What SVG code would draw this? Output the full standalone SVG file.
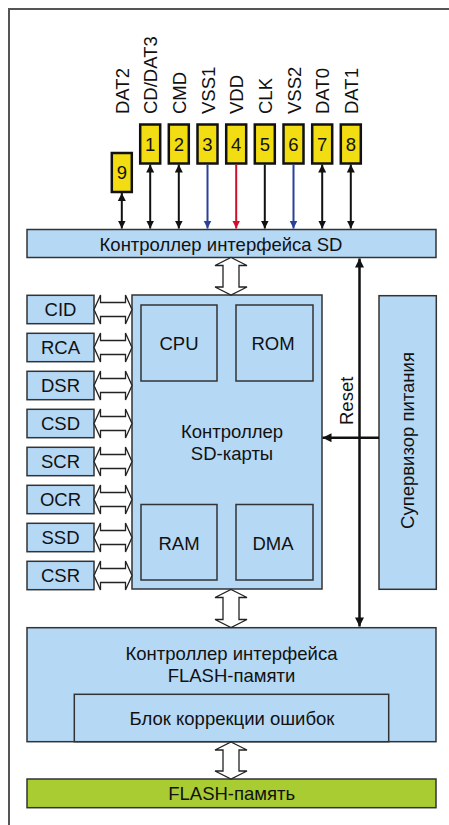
<svg xmlns="http://www.w3.org/2000/svg" width="449" height="825" viewBox="0 0 449 825">
<defs>
<style>
text{font-family:"Liberation Sans",Arial,sans-serif;font-size:18.5px;fill:#111}
.blk{fill:#b5d8f5;stroke:#333;stroke-width:1.5}
.pin{fill:#f2dc12;stroke:#111;stroke-width:2.5}
.hol{fill:#fff;stroke:#222;stroke-width:1.3;stroke-linejoin:miter}
.c{text-anchor:middle}
.wk{stroke:#111;stroke-width:2;fill:none}
.wb{stroke:#2b3f9c;stroke-width:2;fill:none}
.wr{stroke:#d0102a;stroke-width:2;fill:none}
</style>
<marker id="ak" viewBox="0 0 10 10" refX="10" refY="5" markerWidth="8" markerHeight="9" markerUnits="userSpaceOnUse" orient="auto-start-reverse"><path d="M0,0 L10,5 L0,10 z" fill="#111"/></marker>
<marker id="ab" viewBox="0 0 10 10" refX="10" refY="5" markerWidth="8" markerHeight="9" markerUnits="userSpaceOnUse" orient="auto"><path d="M0,0 L10,5 L0,10 z" fill="#2b3f9c"/></marker>
<marker id="ar" viewBox="0 0 10 10" refX="10" refY="5" markerWidth="8" markerHeight="9" markerUnits="userSpaceOnUse" orient="auto"><path d="M0,0 L10,5 L0,10 z" fill="#d0102a"/></marker>
<marker id="ak2" viewBox="0 0 10 10" refX="10" refY="5" markerWidth="13" markerHeight="9" markerUnits="userSpaceOnUse" orient="auto-start-reverse"><path d="M0,0 L10,5 L0,10 z" fill="#111"/></marker>
</defs>
<rect width="449" height="825" fill="#fff"/>
<path d="M9,825 V9 H449" fill="none" stroke="#555" stroke-width="2"/>

<g id="pins">
<g id="pin9"><rect class="pin" x="111.8" y="153" width="20" height="39"/><text class="c" x="121.8" y="179">9</text><text transform="translate(128.8,114) rotate(-90)">DAT2</text></g>
<g id="pin1"><rect class="pin" x="140.2" y="124.5" width="20" height="39"/><text class="c" x="150.2" y="150.5">1</text><text transform="translate(157.2,114) rotate(-90)">CD/DAT3</text></g>
<g id="pin2"><rect class="pin" x="168.8" y="124.5" width="20" height="39"/><text class="c" x="178.8" y="150.5">2</text><text transform="translate(185.8,114) rotate(-90)">CMD</text></g>
<g id="pin3"><rect class="pin" x="197.5" y="124.5" width="20" height="39"/><text class="c" x="207.5" y="150.5">3</text><text transform="translate(214.5,114) rotate(-90)">VSS1</text></g>
<g id="pin4"><rect class="pin" x="226.2" y="124.5" width="20" height="39"/><text class="c" x="236.2" y="150.5">4</text><text transform="translate(243.2,114) rotate(-90)">VDD</text></g>
<g id="pin5"><rect class="pin" x="254.8" y="124.5" width="20" height="39"/><text class="c" x="264.8" y="150.5">5</text><text transform="translate(271.8,114) rotate(-90)">CLK</text></g>
<g id="pin6"><rect class="pin" x="283.5" y="124.5" width="20" height="39"/><text class="c" x="293.5" y="150.5">6</text><text transform="translate(300.5,114) rotate(-90)">VSS2</text></g>
<g id="pin7"><rect class="pin" x="312.2" y="124.5" width="20" height="39"/><text class="c" x="322.2" y="150.5">7</text><text transform="translate(329.2,114) rotate(-90)">DAT0</text></g>
<g id="pin8"><rect class="pin" x="340.8" y="124.5" width="20" height="39"/><text class="c" x="350.8" y="150.5">8</text><text transform="translate(357.8,114) rotate(-90)">DAT1</text></g>
</g>

<g id="sdif"><rect class="blk" x="27" y="229.5" width="409" height="28"/><text class="c" x="221" y="251">Контроллер интерфейса SD</text></g>

<g id="sdctl"><rect class="blk" x="132" y="295" width="190" height="294"/>
<text class="c" x="232" y="438">Контроллер</text><text class="c" x="232" y="460">SD-карты</text></g>
<g id="cpu"><rect class="blk" x="141" y="305" width="76" height="76"/><text class="c" x="179" y="349.5">CPU</text></g>
<g id="rom"><rect class="blk" x="236" y="305" width="77" height="76"/><text class="c" x="273" y="349.5">ROM</text></g>
<g id="ram"><rect class="blk" x="141" y="504.5" width="76" height="75.5"/><text class="c" x="179" y="550">RAM</text></g>
<g id="dma"><rect class="blk" x="236" y="504.5" width="77" height="75.5"/><text class="c" x="273" y="550">DMA</text></g>

<g id="regs">
<g id="cid"><rect class="blk" x="27" y="295.3" width="67" height="28.4"/><text class="c" x="60.5" y="316">CID</text></g>
<g id="rca"><rect class="blk" x="27" y="333.3" width="67" height="28.4"/><text class="c" x="60.5" y="354">RCA</text></g>
<g id="dsr"><rect class="blk" x="27" y="371.3" width="67" height="28.4"/><text class="c" x="60.5" y="392">DSR</text></g>
<g id="csd"><rect class="blk" x="27" y="409.3" width="67" height="28.4"/><text class="c" x="60.5" y="430">CSD</text></g>
<g id="scr"><rect class="blk" x="27" y="447.3" width="67" height="28.4"/><text class="c" x="60.5" y="468">SCR</text></g>
<g id="ocr"><rect class="blk" x="27" y="485.3" width="67" height="28.4"/><text class="c" x="60.5" y="506">OCR</text></g>
<g id="ssd"><rect class="blk" x="27" y="523.3" width="67" height="28.4"/><text class="c" x="60.5" y="544">SSD</text></g>
<g id="csr"><rect class="blk" x="27" y="561.3" width="67" height="28.4"/><text class="c" x="60.5" y="582">CSR</text></g>
</g>

<g id="super"><rect class="blk" x="379" y="295.7" width="57.3" height="293.6"/><text class="c" transform="translate(414,440.5) rotate(-90)">Супервизор питания</text></g>

<g id="flashctl"><rect class="blk" x="27" y="627.7" width="409" height="114"/>
<text class="c" x="231.5" y="660">Контроллер интерфейса</text><text class="c" x="231.5" y="682">FLASH-памяти</text></g>
<g id="ecc"><rect class="blk" x="74.3" y="694.3" width="314.4" height="47.4"/><text class="c" x="232" y="724.5">Блок коррекции ошибок</text></g>

<g id="flash"><rect x="27" y="779" width="409" height="28.7" fill="#a8cc32" stroke="#333" stroke-width="1.5"/><text class="c" x="231.7" y="800">FLASH-память</text></g>

<g id="connectors">
<line class="wk" x1="121.8" y1="193" x2="121.8" y2="228.5" marker-start="url(#ak)" marker-end="url(#ak)"/>
<line class="wk" x1="150.2" y1="164.5" x2="150.2" y2="228.5" marker-start="url(#ak)" marker-end="url(#ak)"/>
<line class="wk" x1="178.8" y1="164.5" x2="178.8" y2="228.5" marker-start="url(#ak)" marker-end="url(#ak)"/>
<line class="wb" x1="207.5" y1="164.5" x2="207.5" y2="228.5" marker-end="url(#ab)"/>
<line class="wr" x1="236.2" y1="164.5" x2="236.2" y2="228.5" marker-end="url(#ar)"/>
<line class="wk" x1="264.8" y1="164.5" x2="264.8" y2="228.5" marker-end="url(#ak)"/>
<line class="wb" x1="293.5" y1="164.5" x2="293.5" y2="228.5" marker-end="url(#ab)"/>
<line class="wk" x1="322.2" y1="164.5" x2="322.2" y2="228.5" marker-start="url(#ak)" marker-end="url(#ak)"/>
<line class="wk" x1="350.8" y1="164.5" x2="350.8" y2="228.5" marker-start="url(#ak)" marker-end="url(#ak)"/>

<path class="hol" d="M231,257.5 L247,265.5 L239,265.5 L239,287 L247,287 L231,295 L215,287 L223,287 L223,265.5 L215,265.5 Z"/>
<path class="hol" d="M231,589.5 L247,597.5 L239,597.5 L239,619.5 L247,619.5 L231,627.5 L215,619.5 L223,619.5 L223,597.5 L215,597.5 Z"/>
<path class="hol" d="M231,742 L247,750 L239,750 L239,771 L247,771 L231,779 L215,771 L223,771 L223,750 L215,750 Z"/>

<path class="hol" d="M94,309.5 L100.5,295 L100.5,302.5 L125.5,302.5 L125.5,295 L132,309.5 L125.5,324 L125.5,316.5 L100.5,316.5 L100.5,324 Z"/>
<path class="hol" d="M94,347.5 L100.5,333 L100.5,340.5 L125.5,340.5 L125.5,333 L132,347.5 L125.5,362 L125.5,354.5 L100.5,354.5 L100.5,362 Z"/>
<path class="hol" d="M94,385.5 L100.5,371 L100.5,378.5 L125.5,378.5 L125.5,371 L132,385.5 L125.5,400 L125.5,392.5 L100.5,392.5 L100.5,400 Z"/>
<path class="hol" d="M94,423.5 L100.5,409 L100.5,416.5 L125.5,416.5 L125.5,409 L132,423.5 L125.5,438 L125.5,430.5 L100.5,430.5 L100.5,438 Z"/>
<path class="hol" d="M94,461.5 L100.5,447 L100.5,454.5 L125.5,454.5 L125.5,447 L132,461.5 L125.5,476 L125.5,468.5 L100.5,468.5 L100.5,476 Z"/>
<path class="hol" d="M94,499.5 L100.5,485 L100.5,492.5 L125.5,492.5 L125.5,485 L132,499.5 L125.5,514 L125.5,506.5 L100.5,506.5 L100.5,514 Z"/>
<path class="hol" d="M94,537.5 L100.5,523 L100.5,530.5 L125.5,530.5 L125.5,523 L132,537.5 L125.5,552 L125.5,544.5 L100.5,544.5 L100.5,552 Z"/>
<path class="hol" d="M94,575.5 L100.5,561 L100.5,568.5 L125.5,568.5 L125.5,561 L132,575.5 L125.5,590 L125.5,582.5 L100.5,582.5 L100.5,590 Z"/>

<line x1="359.5" y1="258.5" x2="359.5" y2="626.5" stroke="#111" stroke-width="2.5" marker-start="url(#ak2)" marker-end="url(#ak2)"/>
<line x1="379" y1="437.7" x2="322.5" y2="437.7" stroke="#111" stroke-width="2.5" marker-end="url(#ak2)"/>
<text transform="translate(353,425) rotate(-90)">Reset</text>
</g>
</svg>
